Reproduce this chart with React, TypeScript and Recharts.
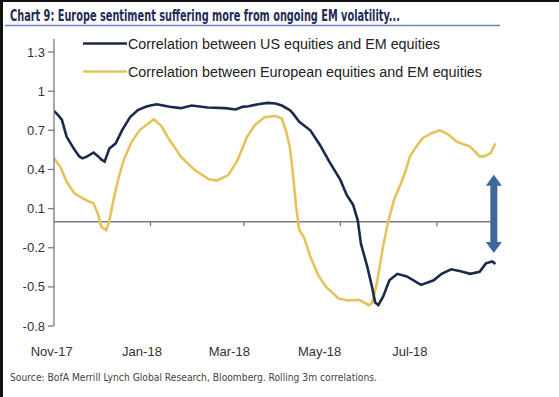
import React from 'react';
import { LineChart, Line, XAxis, YAxis, ReferenceLine } from 'recharts';

// Days since 1 Nov 2017
const monthTicks = [0, 61, 120, 181, 242];
const monthLabels = ['Nov-17', 'Jan-18', 'Mar-18', 'May-18', 'Jul-18'];
const yTicks = [-0.8, -0.5, -0.2, 0.1, 0.4, 0.7, 1, 1.3];

const usDays = [0, 3, 5, 8, 11, 13, 16, 18, 21, 25, 28, 30, 32, 35, 39, 43, 48, 53, 58, 61, 65, 69, 73, 80, 87, 97, 108, 115, 119, 123, 129, 135, 140, 144, 149, 151, 155, 162, 168, 174, 181, 185, 189, 192, 194, 198, 201, 203, 205, 208, 212, 217, 223, 232, 240, 245, 251, 257, 263, 269, 273, 277, 279];
const usValues = [0.85, 0.81, 0.78, 0.65, 0.59, 0.55, 0.5, 0.485, 0.5, 0.53, 0.5, 0.475, 0.46, 0.56, 0.6, 0.7, 0.8, 0.855, 0.88, 0.89, 0.9, 0.89, 0.88, 0.87, 0.89, 0.875, 0.87, 0.86, 0.88, 0.885, 0.9, 0.91, 0.905, 0.89, 0.855, 0.83, 0.765, 0.7, 0.59, 0.46, 0.32, 0.205, 0.13, 0.01, -0.17, -0.345, -0.5, -0.62, -0.64, -0.575, -0.45, -0.4, -0.42, -0.485, -0.45, -0.4, -0.365, -0.38, -0.4, -0.385, -0.32, -0.305, -0.325];

const euDays = [0, 4, 8, 13, 18, 21, 25, 28, 30, 33, 35, 38, 41, 44, 49, 54, 61, 63, 68, 73, 76, 80, 89, 98, 103, 110, 116, 122, 127, 133, 140, 144, 147, 149, 151, 153, 155, 158, 162, 167, 172, 180, 186, 193, 199, 201, 204, 208, 211, 215, 219, 222, 225, 229, 233, 239, 244, 249, 255, 263, 269, 272, 276, 279];
const euValues = [0.485, 0.42, 0.305, 0.215, 0.18, 0.16, 0.14, 0.05, -0.04, -0.065, 0.01, 0.19, 0.345, 0.47, 0.61, 0.7, 0.765, 0.785, 0.73, 0.625, 0.575, 0.5, 0.395, 0.325, 0.315, 0.355, 0.47, 0.65, 0.74, 0.8, 0.81, 0.79, 0.68, 0.575, 0.37, 0.12, -0.065, -0.12, -0.27, -0.41, -0.5, -0.59, -0.605, -0.6, -0.64, -0.625, -0.475, -0.19, -0.01, 0.17, 0.285, 0.38, 0.5, 0.575, 0.64, 0.68, 0.7, 0.67, 0.61, 0.575, 0.5, 0.5, 0.525, 0.6];

const seriesNames = ['Correlation between US equities and EM equities', 'Correlation between European equities and EM equities'];
const arrowDay = 278;
const arrowTop = 0.36;
const arrowBottom = -0.24;
const axisEndDay = 278;

const usData = usDays.map((d, i) => ({ day: d, value: usValues[i] }));
const euData = euDays.map((d, i) => ({ day: d, value: euValues[i] }));

const NAVY = '#1b2a4c';
const GOLD = '#e6c35a';
const AXIS = '#7a7a7a';
const PLOT_LEFT = 54;

const XTick = (props: any) => {
  const { x, y, payload, index } = props;
  const tx = 51.7 + (x - PLOT_LEFT) * 0.9355;
  return (
    <text x={tx} y={y} dy="0.71em" textAnchor="middle" fontSize={13} fill="#333" fontFamily="'Liberation Sans', Arial, sans-serif">
      {monthLabels[index] ?? payload.value}
    </text>
  );
};

const ArrowShape = (props: any) => {
  const { x1, y1, y2 } = props;
  const top = Math.min(y1, y2);
  const bottom = Math.max(y1, y2);
  const h = 11;
  const hw = 8;
  const sw = 3.5;
  const x = x1;
  const pts = [
    [x, top], [x + hw, top + h], [x + sw, top + h], [x + sw, bottom - h], [x + hw, bottom - h],
    [x, bottom], [x - hw, bottom - h], [x - sw, bottom - h], [x - sw, top + h], [x - hw, top + h],
  ].map((p) => p.join(',')).join(' ');
  return <polygon points={pts} fill="#41669c" />;
};

export default function App() {
  return (
    <div style={{ position: 'absolute', left: 0, top: 0, width: 559, height: 397, background: '#fff', overflow: 'hidden' }}>
      <LineChart width={559} height={397} margin={{ top: 39, right: 62, bottom: 41, left: 0 }}>
        <XAxis
          type="number"
          dataKey="day"
          domain={[0, 280]}
          ticks={monthTicks}
          axisLine={false}
          tickLine={false}
          tickSize={0}
          tickMargin={21}
          height={30}
          tick={<XTick />}
          interval={0}
          allowDataOverflow
        />
        <YAxis
          type="number"
          domain={[-0.8, 1.4]}
          ticks={yTicks}
          width={54}
          tickSize={6}
          tickMargin={3}
          axisLine={{ stroke: AXIS, strokeWidth: 1.3 }}
          tickLine={{ stroke: AXIS, strokeWidth: 1.3 }}
          tick={{ fontSize: 13, fill: '#333', fontFamily: "'Liberation Sans', Arial, sans-serif" }}
          tickFormatter={(v: number) => String(v)}
          interval={0}
          allowDataOverflow
        />
        <ReferenceLine segment={[{ x: 0, y: 0 }, { x: axisEndDay, y: 0 }]} stroke={AXIS} strokeWidth={1.5} />
        {monthTicks.slice(1).map((t) => (
          <ReferenceLine key={t} segment={[{ x: t, y: 0 }, { x: t, y: -0.035 }]} stroke={AXIS} strokeWidth={1.3} />
        ))}
        <Line data={euData} dataKey="value" name={seriesNames[1]} type="linear" stroke={GOLD} strokeWidth={2.6} dot={false} isAnimationActive={false} />
        <Line data={usData} dataKey="value" name={seriesNames[0]} type="linear" stroke={NAVY} strokeWidth={2.6} dot={false} isAnimationActive={false} />
        <ReferenceLine segment={[{ x: arrowDay, y: arrowTop }, { x: arrowDay, y: arrowBottom }]} stroke="#41669c" shape={<ArrowShape />} />
      </LineChart>
      <svg width={559} height={397} style={{ position: 'absolute', left: 0, top: 0, pointerEvents: 'none' }}>
        <rect x={0} y={0} width={559} height={2} fill="#111" />
        <rect x={0} y={0} width={3} height={397} fill="#111" />
        <text x={10} y={20.5} fontSize={15} fontWeight="bold" fill="#1f2c57" fontFamily="'Liberation Sans Narrow', 'DejaVu Sans Condensed', 'Liberation Sans', sans-serif" textLength={390} lengthAdjust="spacingAndGlyphs">
          Chart 9: Europe sentiment suffering more from ongoing EM volatility...
        </text>
        <line x1={5} y1={25.5} x2={500} y2={25.5} stroke="#6a82c2" strokeWidth={1.5} />
        <line x1={83} y1={43.5} x2={127} y2={43.5} stroke={NAVY} strokeWidth={2.6} />
        <text x={128} y={48.5} fontSize={14} fill="#222" fontFamily="'Liberation Sans', Arial, sans-serif" textLength={312} lengthAdjust="spacingAndGlyphs">
          {seriesNames[0]}
        </text>
        <line x1={83} y1={71.5} x2={127} y2={71.5} stroke={GOLD} strokeWidth={2.6} />
        <text x={128} y={76.5} fontSize={14} fill="#222" fontFamily="'Liberation Sans', Arial, sans-serif" textLength={354} lengthAdjust="spacingAndGlyphs">
          {seriesNames[1]}
        </text>
        <text x={10} y={381} fontSize={10.5} fill="#444" fontFamily="'Liberation Sans Narrow', 'DejaVu Sans Condensed', 'Liberation Sans', sans-serif" textLength={367} lengthAdjust="spacingAndGlyphs">
          Source: BofA Merrill Lynch Global Research, Bloomberg. Rolling 3m correlations.
        </text>
      </svg>
    </div>
  );
}
